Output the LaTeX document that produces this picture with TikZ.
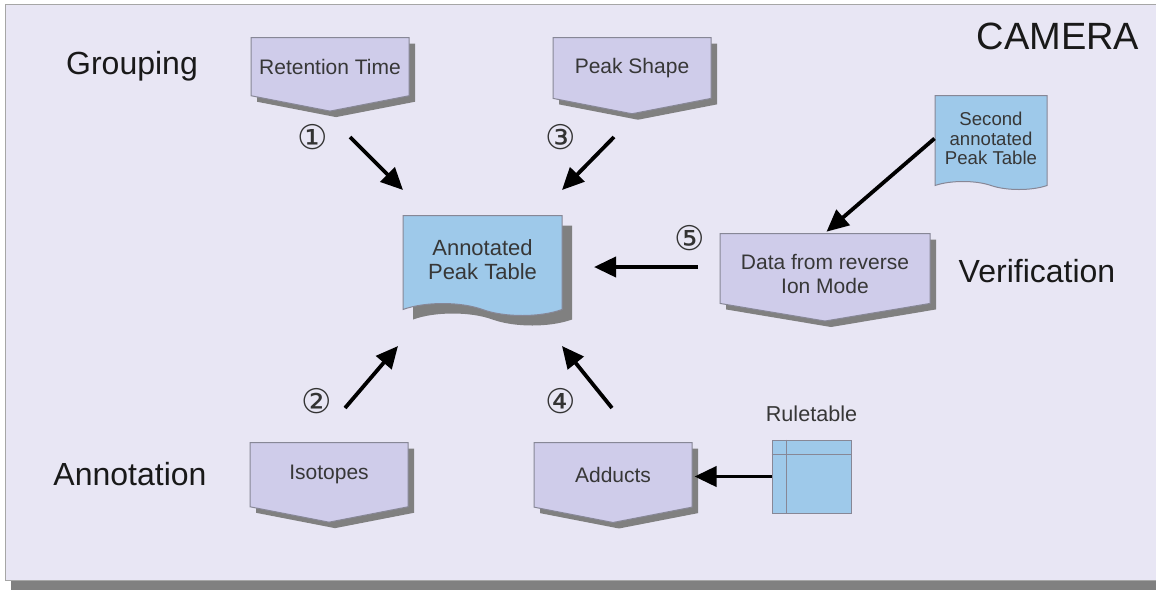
\documentclass[tikz,border=0pt]{standalone}
\usepackage{fontspec}
\setmainfont{Liberation Sans}
\newfontfamily\circfont{DejaVu Sans}
\usetikzlibrary{arrows.meta,calc,positioning,shapes.symbols,shadows}
\definecolor{PanelClr}{RGB}{232,230,244}
\definecolor{BoxClr}{RGB}{207,204,234}
\definecolor{TableClr}{RGB}{158,201,234}
\definecolor{ShadeClr}{RGB}{128,128,128}
\definecolor{EdgeClr}{RGB}{135,135,150}
\definecolor{TextClr}{RGB}{55,55,55}

\tikzset{
  stepbox/.style={signal, signal to=south, signal pointer angle=158,
    minimum width=79pt, minimum height=36pt, inner sep=0pt,
    draw=EdgeClr, line width=.5pt, fill=BoxClr, text=TextClr, align=center,
    font=\fontsize{10.5}{12}\selectfont,
    drop shadow={shadow xshift=3pt, shadow yshift=-3pt, fill=ShadeClr, opacity=1}},
  doc/.style={tape, tape bend top=none, tape bend bottom=out and in,
    draw=EdgeClr, line width=.5pt, fill=TableClr, text=TextClr, align=center, inner sep=0pt},
  group/.style={font=\fontsize{16}{18}\selectfont, text=black!90},
  num/.style={font=\circfont\fontsize{17}{17}\selectfont, text=black!80, inner sep=0pt},
  arr/.style={line width=1.9pt, -{Triangle[length=11pt,width=10pt]}}
}

\begin{document}
\begin{tikzpicture}[x=.5pt,y=-.5pt]
\useasboundingbox (0,0) rectangle (1156,590);

% panel
\fill[ShadeClr] (11,580) rectangle (1170,590);
\draw[fill=PanelClr,draw=gray!70] (5,4) rectangle (1170,580);

\node[group] (camera) at (1058,36) {\fontsize{19}{20}\selectfont CAMERA};
\node[group] (grp) at (132,66) {Grouping};
\node[group] (ann) at (130,474) {Annotation};
\node[group] (ver) at (1037,271) {Verification};

% steps
\node[stepbox,anchor=north] (rt) at (330,37) {Retention Time};
\node[stepbox,anchor=north] (ps) at (632,37) {Peak Shape};
\node[stepbox,anchor=north] (iso) at (329,442) {Isotopes};
\node[stepbox,anchor=north] (add) at (613,442) {Adducts};
\node[stepbox,anchor=north,minimum width=105pt,minimum height=42pt,
  signal pointer angle=161] (data) at (825,233)
  {\raisebox{-4pt}[\height][\depth]{\begin{tabular}{@{}c@{}}Data from reverse\\Ion Mode\end{tabular}}};

% tables
\node[doc,anchor=north,minimum width=79.5pt,minimum height=50pt,tape bend height=6pt,
  font=\fontsize{11}{12}\selectfont,
  drop shadow={shadow xshift=5pt, shadow yshift=-5pt, fill=ShadeClr, opacity=1}]
  (apt) at (482.5,215) {Annotated\\Peak Table};
\node[doc,anchor=north,minimum width=56pt,minimum height=47pt,tape bend height=4pt,
  font=\fontsize{9.3}{9.8}\selectfont] (sec) at (991,95) {Second\\annotated\\Peak Table};

\node[draw=EdgeClr,fill=TableClr,minimum width=39.5pt,minimum height=36.5pt,inner sep=0pt]
  (rule) at (811.5,476.5) {};
\draw[EdgeClr] ($(rule.north west)+(15,0)$) -- ($(rule.south west)+(15,0)$);
\draw[EdgeClr] ($(rule.north west)+(0,15)$) -- ($(rule.north east)+(0,15)$);
\node[above=8.5pt of rule,inner sep=0pt,text=TextClr,font=\fontsize{10.8}{12}\selectfont]
  (rlab) {Ruletable};

% numbers
\node[num] (n1) at (313,137) {①};
\node[num] (n2) at (317,401) {②};
\node[num] (n3) at (561,137) {③};
\node[num] (n4) at (561,401) {④};
\node[num] (n5) at (690,238) {⑤};

% arrows
\coordinate (a1s) at (350,137); \coordinate (a1e) at (403,190);
\coordinate (a3s) at (614,137); \coordinate (a3e) at (562,190);
\coordinate (a2s) at (345,408); \coordinate (a2e) at (398,346);
\coordinate (a4s) at (612,408); \coordinate (a4e) at (562,346);
\coordinate (a5s) at (698,267); \coordinate (a5e) at (594,267);

\draw[arr] (a1s) -- (a1e);
\draw[arr] (a3s) -- (a3e);
\draw[arr] (a2s) -- (a2e);
\draw[arr] (a4s) -- (a4e);
\draw[arr] (a5s) -- (a5e);
\draw[arr,shorten >=1pt] (sec.west) -- (data.north);
\draw[arr,shorten >=1pt] (rule.west) -- (rule.west -| add.east);

\end{tikzpicture}
\end{document}
